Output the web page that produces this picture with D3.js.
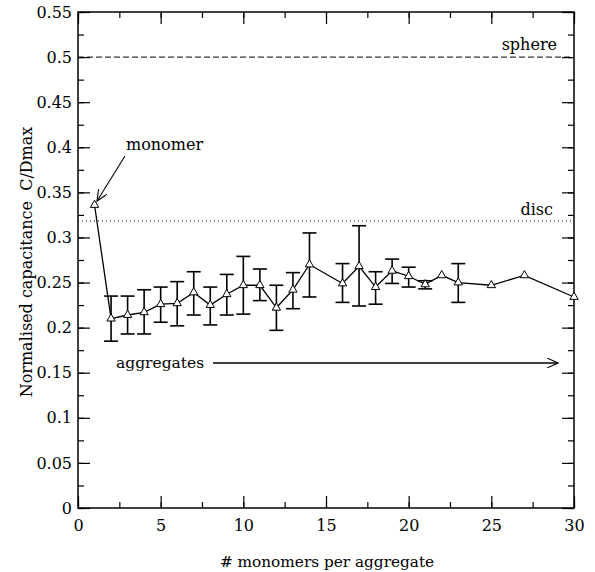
<!DOCTYPE html>
<html>
<head>
<meta charset="utf-8">
<script src="https://cdn.jsdelivr.net/npm/d3@7"></script>
<style>
html,body{margin:0;padding:0;background:#fff;}
</style>
</head>
<body>
<svg id="chart" width="595" height="572">
</svg>
<script>
const xs       = [1, 2, 3, 4, 5, 6, 7, 8, 9, 10, 11, 12, 13, 14, 16, 17, 18, 19, 20, 21, 22, 23, 25, 27, 30];
const means    = [0.336, 0.210, 0.214, 0.217, 0.226, 0.227, 0.239, 0.225, 0.237, 0.247, 0.247, 0.222, 0.242, 0.270, 0.249, 0.268, 0.245, 0.263, 0.257, 0.248, 0.258, 0.250, 0.247, 0.258, 0.234];
const errLow   = [null, 0.185, 0.193, 0.193, 0.206, 0.202, 0.214, 0.203, 0.214, 0.215, 0.230, 0.197, 0.221, 0.234, 0.228, 0.224, 0.226, 0.249, 0.245, 0.243, null, 0.228, null, null, null];
const errHigh  = [null, 0.235, 0.235, 0.242, 0.245, 0.251, 0.262, 0.245, 0.259, 0.279, 0.265, 0.247, 0.261, 0.305, 0.271, 0.313, 0.262, 0.276, 0.267, 0.252, null, 0.271, null, null, null];
const xTicks   = [0, 5, 10, 15, 20, 25, 30];
const yTicks   = [0, 0.05, 0.1, 0.15, 0.2, 0.25, 0.3, 0.35, 0.4, 0.45, 0.5, 0.55];
const refValues = [0.5, 0.3183];
const refLabels = ["sphere", "disc"];

const FONT = "DejaVu Serif";
const FS = 16;
const svg = d3.select("#chart");
const L = 78, R = 574, T = 12, B = 508;
const x = d3.scaleLinear().domain([0, 30]).range([L, R]);
const y = d3.scaleLinear().domain([0, 0.55]).range([B, T]);

const xMinor = d3.range(0, 30.01, 2.5);
const yMinor = d3.range(0, 0.5501, 0.025);

function styleAxis(g){
  g.attr("font-family", FONT).attr("font-size", FS);
  g.select(".domain").remove();
  g.selectAll("line").attr("stroke", "#000").attr("stroke-width", 1.2);
  g.selectAll("text").attr("font-family", FONT).attr("font-size", FS);
}
// Minor ticks
svg.append("g").attr("transform", `translate(0,${B})`).call(d3.axisBottom(x).tickValues(xMinor).tickSize(-6).tickFormat("")).call(styleAxis);
svg.append("g").attr("transform", `translate(0,${T})`).call(d3.axisTop(x).tickValues(xMinor).tickSize(-6).tickFormat("")).call(styleAxis);
svg.append("g").attr("transform", `translate(${L},0)`).call(d3.axisLeft(y).tickValues(yMinor).tickSize(-6).tickFormat("")).call(styleAxis);
svg.append("g").attr("transform", `translate(${R},0)`).call(d3.axisRight(y).tickValues(yMinor).tickSize(-6).tickFormat("")).call(styleAxis);
// Major ticks
svg.append("g").attr("transform", `translate(0,${B})`).call(d3.axisBottom(x).tickValues(xTicks).tickSize(-12).tickPadding(12).tickFormat(d3.format("d"))).call(styleAxis);
svg.append("g").attr("transform", `translate(0,${T})`).call(d3.axisTop(x).tickValues(xTicks).tickSize(-12).tickFormat("")).call(styleAxis);
svg.append("g").attr("transform", `translate(${L},0)`).call(d3.axisLeft(y).tickValues(yTicks).tickSize(-12).tickPadding(6).tickFormat(d => d === 0 ? "0" : d3.format("")(+d.toFixed(2)))).call(styleAxis);
svg.append("g").attr("transform", `translate(${R},0)`).call(d3.axisRight(y).tickValues(yTicks).tickSize(-12).tickFormat("")).call(styleAxis);

// Frame
svg.append("rect").attr("x", L).attr("y", T).attr("width", R - L).attr("height", B - T)
  .attr("fill", "none").attr("stroke", "#000").attr("stroke-width", 1.5);

// Reference lines
svg.append("line").attr("x1", L).attr("x2", R).attr("y1", y(refValues[0])).attr("y2", y(refValues[0]))
  .attr("stroke", "#000").attr("stroke-width", 1).attr("stroke-dasharray", "6,3");
svg.append("line").attr("x1", L).attr("x2", R).attr("y1", y(refValues[1])).attr("y2", y(refValues[1]))
  .attr("stroke", "#000").attr("stroke-width", 1).attr("stroke-dasharray", "1,3");

function label(xp, yp, txt, anchor, fs){
  return svg.append("text").attr("x", xp).attr("y", yp).attr("text-anchor", anchor || "start")
    .attr("font-size", fs || FS).attr("font-family", FONT).attr("fill", "#000").text(txt);
}
label(557, y(refValues[0]) - 7, refLabels[0], "end");
label(553, y(refValues[1]) - 6, refLabels[1], "end");

const data = xs.map((v, i) => ({x: v, m: means[i], lo: errLow[i], hi: errHigh[i]}));

// Error bars
const eb = svg.append("g").attr("stroke", "#000").attr("stroke-width", 1.6);
data.filter(d => d.lo !== null).forEach(d => {
  eb.append("line").attr("x1", x(d.x)).attr("x2", x(d.x)).attr("y1", y(d.lo)).attr("y2", y(d.hi));
  eb.append("line").attr("x1", x(d.x) - 7).attr("x2", x(d.x) + 7).attr("y1", y(d.lo)).attr("y2", y(d.lo));
  eb.append("line").attr("x1", x(d.x) - 7).attr("x2", x(d.x) + 7).attr("y1", y(d.hi)).attr("y2", y(d.hi));
});

// Line
svg.append("path").datum(data)
  .attr("d", d3.line().x(d => x(d.x)).y(d => y(d.m)))
  .attr("fill", "none").attr("stroke", "#000").attr("stroke-width", 1.3);

// Triangles
svg.append("g").selectAll("path").data(data).join("path")
  .attr("transform", d => `translate(${x(d.x)},${y(d.m)})`)
  .attr("d", d3.symbol().type(d3.symbolTriangle).size(30))
  .attr("fill", "#fff").attr("stroke", "#000").attr("stroke-width", 1);

// Arrow markers
const defs = svg.append("defs");
defs.append("marker").attr("id", "arr").attr("viewBox", "0 0 12 10").attr("refX", 11).attr("refY", 5)
  .attr("markerWidth", 12).attr("markerHeight", 10).attr("markerUnits", "userSpaceOnUse").attr("orient", "auto")
  .append("path").attr("d", "M0,0 L11,5 L0,10").attr("fill", "none").attr("stroke", "#000").attr("stroke-width", 1.1);

// monomer annotation
label(126, 150, "monomer");
svg.append("line").attr("x1", 125).attr("y1", 156).attr("x2", 97).attr("y2", 201)
  .attr("stroke", "#000").attr("stroke-width", 1.1).attr("marker-end", "url(#arr)");

// aggregates annotation
label(116, 368, "aggregates", "start", 15.5);
svg.append("line").attr("x1", 213).attr("y1", 363).attr("x2", 558).attr("y2", 363)
  .attr("stroke", "#000").attr("stroke-width", 1.3).attr("marker-end", "url(#arr)");

// Axis titles
label(327, 567, "# monomers per aggregate", "middle", 15.3);
svg.append("text").attr("transform", `translate(32,${(T + B) / 2 + 2}) rotate(-90)`).attr("text-anchor", "middle")
  .attr("font-size", FS).attr("font-family", FONT).style("white-space", "pre")
  .text("Normalised capacitance  C/Dmax");
</script>
</body>
</html>
